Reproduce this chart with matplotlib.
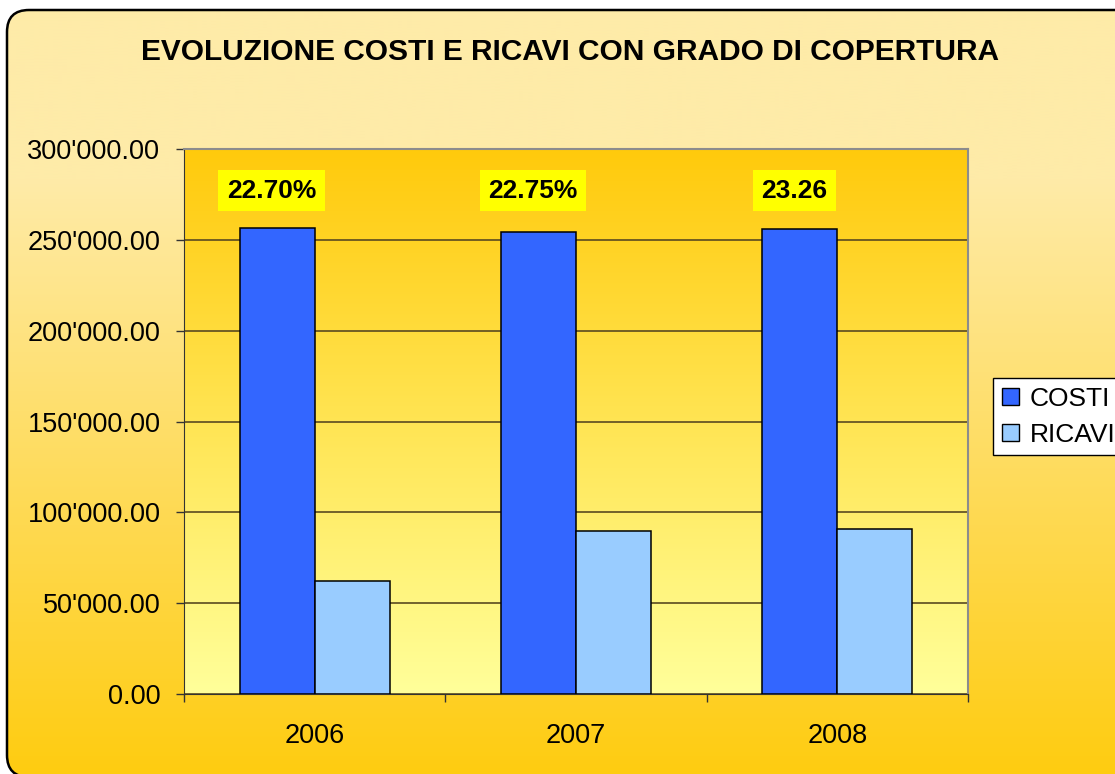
"""Costi e ricavi con grado di copertura, 2006-2008."""

import matplotlib

matplotlib.use("Agg")
import matplotlib.pyplot as plt
import numpy as np
from matplotlib.colors import LinearSegmentedColormap
from matplotlib.patches import FancyBboxPatch, Patch
from matplotlib.ticker import FuncFormatter

plt.rcParams["font.family"] = ["Liberation Sans", "DejaVu Sans"]

years = ["2006", "2007", "2008"]
costi = [256700, 254150, 255950]
ricavi = [62050, 89900, 90850]
copertura = ["22.70%", "22.75%", "23.26"]
series_names = ["COSTI", "RICAVI"]

W, H = 1115, 774
fig = plt.figure(figsize=(W / 100, H / 100), dpi=100)
fig.patch.set_facecolor("white")

# rounded outer frame with vertical gradient (runs off the right and bottom edges)
bg = fig.add_axes([0, 0, 1, 1], zorder=-5)
frame_cmap = LinearSegmentedColormap.from_list(
    "frame", [(0, "#feeba8"), (0.22, "#feeba8"), (1, "#ffcc10")]
)
grad = np.linspace(0, 1, 256).reshape(-1, 1)
img = bg.imshow(grad, cmap=frame_cmap, extent=(7, 1200, -3, H - 10), aspect="auto")
frame = FancyBboxPatch(
    (7, -3), 1193, H - 7, boxstyle="round,pad=0,rounding_size=22",
    facecolor="none", edgecolor="black", linewidth=1.8,
)
bg.add_patch(frame)
img.set_clip_path(frame)
bg.set_xlim(0, W)
bg.set_ylim(0, H)
bg.axis("off")

ax = fig.add_axes([184 / W, 1 - 694 / H, 784 / W, 545 / H])
x = np.arange(len(years))
width = 0.287

plot_cmap = LinearSegmentedColormap.from_list("plot", ["#ffca0c", "#ffff9a"])
ax.imshow(grad, cmap=plot_cmap, extent=(-0.5, 2.5, 0, 300000), aspect="auto", zorder=0)

ax.bar(x - width / 2, costi, width, color="#3366ff", edgecolor="black", linewidth=1.1, zorder=3)
ax.bar(x + width / 2, ricavi, width, color="#99ccff", edgecolor="black", linewidth=1.1, zorder=3)

for xi, label in zip(x, copertura):
    ax.text(xi - 0.165, 277000, label, ha="center", va="center", fontsize=19,
            fontweight="bold", zorder=4,
            bbox=dict(boxstyle="square,pad=0.32", facecolor="#ffff00", edgecolor="none"))

ax.set_xlim(-0.5, 2.5)
ax.set_ylim(0, 300000)
ax.set_yticks(np.arange(0, 300001, 50000))
ax.yaxis.set_major_formatter(FuncFormatter(lambda v, p: f"{v:,.2f}".replace(",", "'")))
ax.set_xticks(x)
ax.set_xticklabels(years)
ax.set_xticks([-0.5, 0.5, 1.5, 2.5], minor=True)
ax.tick_params(axis="y", length=6, width=1, color="#333333", pad=11, labelsize=19.5)
ax.tick_params(axis="x", which="major", length=0, pad=21, labelsize=19.5)
ax.tick_params(axis="x", which="minor", length=6, width=1, color="#333333")
ax.grid(axis="y", color="#5a4a20", linewidth=1.2, zorder=1)
ax.set_axisbelow(True)
for side in ["left", "bottom"]:
    ax.spines[side].set_color("#333333")
for side in ["top", "right"]:
    ax.spines[side].set_color("#8c8c8c")
    ax.spines[side].set_linewidth(1.5)

fig.text(570 / W, 1 - 51.5 / H, "EVOLUZIONE COSTI E RICAVI CON GRADO DI COPERTURA",
         ha="center", va="center", fontsize=21.5, fontweight="bold")

handles = [Patch(facecolor="#3366ff", edgecolor="black"),
           Patch(facecolor="#99ccff", edgecolor="black")]
leg = fig.legend(handles, series_names, loc="upper left",
                 bbox_to_anchor=(993 / W, 1 - 378 / H), bbox_transform=fig.transFigure,
                 fontsize=19, frameon=True, fancybox=False, framealpha=1,
                 handlelength=0.65, handleheight=0.65, handletextpad=0.42,
                 borderpad=0.33, labelspacing=0.45, borderaxespad=0)
leg.get_frame().set_edgecolor("black")
leg.get_frame().set_linewidth(1)
leg.get_frame().set_facecolor("white")

fig.savefig("out.png", dpi=100)
